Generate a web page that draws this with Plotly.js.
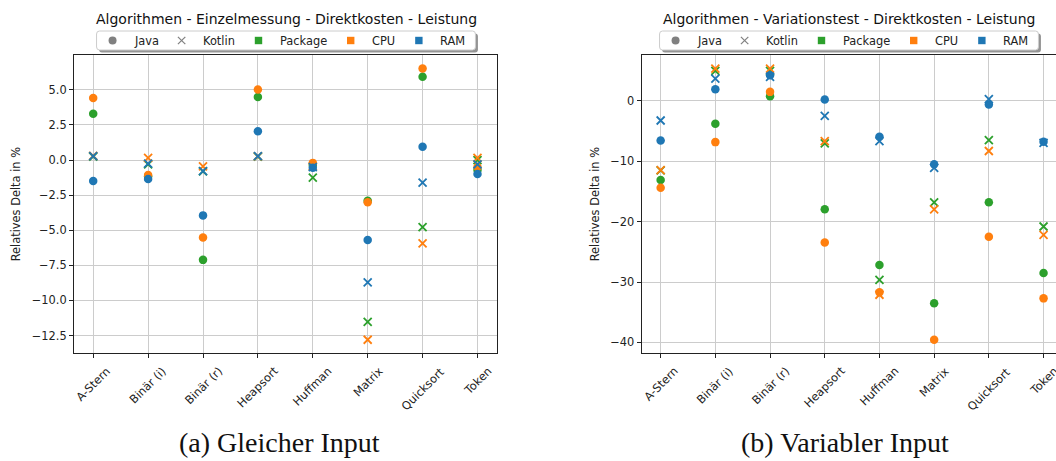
<!DOCTYPE html>
<html><head><meta charset="utf-8">
<script src="https://cdn.plot.ly/plotly-3.0.1.min.js"></script>
<style>
html,body{margin:0;padding:0;overflow:hidden;background:#fff;width:1056px;height:461px}
#chart{width:1070px;height:461px}
</style>
</head><body><div id="chart"></div><script>
// ---------- data ----------
const categories = ['A-Stern', 'Binär (i)', 'Binär (r)', 'Heapsort', 'Huffman', 'Matrix', 'Quicksort', 'Token'];
const titleA = 'Algorithmen - Einzelmessung - Direktkosten - Leistung';
const titleB = 'Algorithmen - Variationstest - Direktkosten - Leistung';
const captionA = '(a) Gleicher Input';
const captionB = '(b) Variabler Input';
const yAxisLabel = 'Relatives Delta in %';
const legendNames = ['Java', 'Kotlin', 'Package', 'CPU', 'RAM'];

// (a) Gleicher Input
const a_javaPackage   = [3.30, -1.15, -7.11, 4.50, -0.35, -2.90, 5.93, -0.70];
const a_javaCPU       = [4.43, -1.07, -5.52, 5.03, -0.20, -3.00, 6.52, -0.50];
const a_javaRAM       = [-1.49, -1.35, -3.94, 2.06, -0.55, -5.69, 0.95, -1.00];
const a_kotlinPackage = [0.25, -0.30, -0.80, 0.25, -1.25, -11.52, -4.77, 0.00];
const a_kotlinCPU     = [0.30, 0.15, -0.45, 0.27, -0.45, -12.80, -5.93, 0.15];
const a_kotlinRAM     = [0.28, -0.25, -0.78, 0.28, -0.50, -8.72, -1.61, -0.30];

// (b) Variabler Input
const b_javaPackage   = [-13.10, -3.80, 0.78, -17.96, -27.16, -33.50, -16.80, -28.50];
const b_javaCPU       = [-14.40, -6.83, 1.49, -23.46, -31.70, -39.55, -22.50, -32.70];
const b_javaRAM       = [-6.55, 1.93, 4.25, 0.22, -5.95, -10.50, -0.60, -6.77];
const b_kotlinPackage = [-11.50, 4.96, 4.96, -7.05, -29.64, -16.80, -6.50, -20.80];
const b_kotlinCPU     = [-11.45, 5.35, 5.35, -6.66, -32.10, -17.96, -8.30, -22.20];
const b_kotlinRAM     = [-3.25, 3.70, 3.97, -2.48, -6.66, -11.10, 0.28, -6.95];

// ---------- styling ----------
const C_PKG = '#2ca02c', C_CPU = '#ff7f0e', C_RAM = '#1f77b4', C_GRAY = '#808080';
const FONT = 'DejaVu Sans, Verdana, sans-serif';
const FS = 11.4;
const W = 1070, H = 461;
const px = v => v / W;
const py = v => 1 - v / H;

function pts(xa, ya, ys, color, sym) {
  const marker = sym === 'circle'
    ? {symbol: 'circle', size: 8.5, color: color}
    : {symbol: 'x-thin', size: 8, color: color, line: {color: color, width: 1.8}};
  return {type: 'scatter', mode: 'markers', x: categories, y: ys, xaxis: xa, yaxis: ya,
          showlegend: false, hoverinfo: 'skip', marker: marker, cliponaxis: false};
}
function chartTraces(xa, ya, jp, jc, jr, kp, kc, kr) {
  return [
    pts(xa, ya, jp, C_PKG, 'circle'),
    pts(xa, ya, kp, C_PKG, 'x'),
    pts(xa, ya, jc, C_CPU, 'circle'),
    pts(xa, ya, kc, C_CPU, 'x'),
    pts(xa, ya, jr, C_RAM, 'circle'),
    pts(xa, ya, kr, C_RAM, 'x')
  ];
}
function dataRange(arrs) {
  const all = [].concat(...arrs);
  const mn = Math.min(...all), mx = Math.max(...all);
  const m = 0.05 * (mx - mn);
  return [mn - m, mx + m];
}

const traces = [].concat(
  chartTraces('x', 'y', a_javaPackage, a_javaCPU, a_javaRAM, a_kotlinPackage, a_kotlinCPU, a_kotlinRAM),
  chartTraces('x2', 'y2', b_javaPackage, b_javaCPU, b_javaRAM, b_kotlinPackage, b_kotlinCPU, b_kotlinRAM)
);

const rangeA = dataRange([a_javaPackage, a_javaCPU, a_javaRAM, a_kotlinPackage, a_kotlinCPU, a_kotlinRAM]);
const rangeB = dataRange([b_javaPackage, b_javaCPU, b_javaRAM, b_kotlinPackage, b_kotlinCPU, b_kotlinRAM]);

const plotTop = 55, plotBottom = 353.3;
const A_L = 74, A_R = 496.7, B_L = 641.5, B_R = 1062.7;
const GRID = '#cccccc', AX = '#222';

function xAxis(dom, anchor) {
  return {domain: [px(dom[0]), px(dom[1])], anchor: anchor, type: 'category',
    range: [-0.35, categories.length - 1 + 0.35], showgrid: true, gridcolor: GRID, gridwidth: 1,
    showline: true, linecolor: AX, linewidth: 1, mirror: true,
    ticks: 'outside', ticklen: 4, tickcolor: AX, showticklabels: false, zeroline: false, fixedrange: true};
}
function yAxis(range, dtick, fmt, anchor) {
  return {domain: [py(plotBottom), py(plotTop)], anchor: anchor, range: range, dtick: dtick, tick0: 0,
    tickformat: fmt, showgrid: true, gridcolor: GRID, gridwidth: 1, zeroline: false,
    showline: true, linecolor: AX, linewidth: 1, mirror: true,
    ticks: 'outside', ticklen: 4, tickcolor: AX,
    tickfont: {family: FONT, size: FS, color: '#222'},
    title: {text: yAxisLabel, font: {family: FONT, size: FS, color: '#222'}, standoff: 8}, fixedrange: true};
}

const annotations = [];
const shapes = [];
function addTickLabels(xref) {
  categories.forEach(c => annotations.push({
    text: c, x: c, xref: xref, y: py(plotBottom), yref: 'paper', xanchor: 'center', yanchor: 'top',
    yshift: -8, textangle: -45, showarrow: false, font: {family: FONT, size: FS, color: '#222'}
  }));
}
addTickLabels('x');
addTickLabels('x2');
const centerA = 286, centerB = 849;
[[titleA, centerA], [titleB, centerB]].forEach(t => annotations.push({
  text: t[0], x: px(t[1]), y: py(19), xref: 'paper', yref: 'paper', xanchor: 'center', yanchor: 'middle',
  showarrow: false, font: {family: FONT, size: 14, color: '#111'}}));
[[captionA, 279], [captionB, 845]].forEach(t => annotations.push({
  text: t[0], x: px(t[1]), y: py(442), xref: 'paper', yref: 'paper', xanchor: 'center', yanchor: 'middle',
  showarrow: false, font: {family: 'Liberation Serif, DejaVu Serif, serif', size: 28, color: '#111'}}));

// ---------- legend (matplotlib-like horizontal legend with shadow) ----------
const measureCtx = document.createElement('canvas').getContext('2d');
measureCtx.font = FS + 'px "DejaVu Sans"';
const legendSymbols = [['circle', C_GRAY], ['x', C_GRAY], ['square', C_PKG], ['square', C_CPU], ['square', C_RAM]];
const LG = {padL: 16, markToText: 20, textToMark: 25, padR: 11.5, top: 31, bottom: 50};

function roundRectPath(x0, y0, x1, y1, r) {
  const X = v => px(v).toFixed(5), Y = v => py(v).toFixed(5);
  return 'M' + X(x0 + r) + ',' + Y(y0) + ' L' + X(x1 - r) + ',' + Y(y0) +
    ' Q' + X(x1) + ',' + Y(y0) + ' ' + X(x1) + ',' + Y(y0 + r) +
    ' L' + X(x1) + ',' + Y(y1 - r) + ' Q' + X(x1) + ',' + Y(y1) + ' ' + X(x1 - r) + ',' + Y(y1) +
    ' L' + X(x0 + r) + ',' + Y(y1) + ' Q' + X(x0) + ',' + Y(y1) + ' ' + X(x0) + ',' + Y(y1 - r) +
    ' L' + X(x0) + ',' + Y(y0 + r) + ' Q' + X(x0) + ',' + Y(y0) + ' ' + X(x0 + r) + ',' + Y(y0) + ' Z';
}

function addLegend(cx) {
  const widths = legendNames.map(n => measureCtx.measureText(n).width);
  const total = LG.padL + LG.padR + legendNames.length * LG.markToText +
    widths.reduce((a, b) => a + b, 0) + (legendNames.length - 1) * LG.textToMark;
  const x0 = cx - total / 2, x1 = cx + total / 2;
  const yc = (LG.top + LG.bottom) / 2;
  shapes.push({type: 'path', xref: 'paper', yref: 'paper', path: roundRectPath(x0 + 2.5, LG.top + 2.5, x1 + 2.5, LG.bottom + 2.5, 3),
    fillcolor: 'rgba(0,0,0,0.42)', line: {width: 0}, layer: 'above'});
  shapes.push({type: 'path', xref: 'paper', yref: 'paper', path: roundRectPath(x0, LG.top, x1, LG.bottom, 3),
    fillcolor: '#ffffff', line: {color: '#cccccc', width: 1}, layer: 'above'});
  let cursor = x0 + LG.padL;
  legendNames.forEach((name, i) => {
    const [sym, col] = legendSymbols[i];
    const m = cursor, s = 3.7;
    if (sym === 'circle') {
      shapes.push({type: 'circle', xref: 'paper', yref: 'paper', x0: px(m - 4), x1: px(m + 4), y0: py(yc + 4), y1: py(yc - 4),
        fillcolor: col, line: {width: 0}, layer: 'above'});
    } else if (sym === 'x') {
      shapes.push({type: 'line', xref: 'paper', yref: 'paper', x0: px(m - s), x1: px(m + s), y0: py(yc - s), y1: py(yc + s),
        line: {color: col, width: 1.2}, layer: 'above'});
      shapes.push({type: 'line', xref: 'paper', yref: 'paper', x0: px(m - s), x1: px(m + s), y0: py(yc + s), y1: py(yc - s),
        line: {color: col, width: 1.2}, layer: 'above'});
    } else {
      shapes.push({type: 'rect', xref: 'paper', yref: 'paper', x0: px(m - 3.7), x1: px(m + 3.7), y0: py(yc + 3.7), y1: py(yc - 3.7),
        fillcolor: col, line: {width: 0}, layer: 'above'});
    }
    const tx = m + LG.markToText;
    annotations.push({text: name, x: px(tx), y: py(yc), xref: 'paper', yref: 'paper', xanchor: 'left', yanchor: 'middle',
      showarrow: false, borderpad: 0, font: {family: FONT, size: FS, color: '#222'}});
    cursor = tx + widths[i] + LG.textToMark;
  });
}
addLegend(centerA);
addLegend(centerB);

const layout = {
  width: W, height: H, margin: {l: 0, r: 0, t: 0, b: 0},
  paper_bgcolor: '#ffffff', plot_bgcolor: '#ffffff',
  font: {family: FONT, size: FS, color: '#222'},
  xaxis: xAxis([A_L, A_R], 'y'),
  yaxis: yAxis(rangeA, 2.5, '.1f', 'x'),
  xaxis2: xAxis([B_L, B_R], 'y2'),
  yaxis2: yAxis(rangeB, 10, 'd', 'x2'),
  annotations: annotations,
  shapes: shapes,
  showlegend: false
};

Plotly.newPlot('chart', traces, layout, {staticPlot: true, displayModeBar: false});
</script></body></html>
